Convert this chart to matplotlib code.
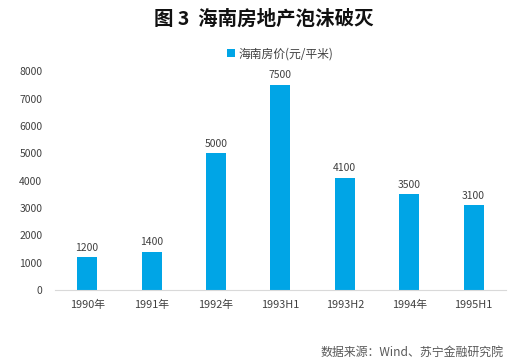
import matplotlib.pyplot as plt
import numpy as np

plt.rcParams['font.family'] = ['Noto Sans CJK SC', 'DejaVu Sans']

# ── Data ───────────────────────────────────────────────────────────────────────
periods = ["1990年", "1991年", "1992年", "1993H1", "1993H2", "1994年", "1995H1"]
prices = [1200, 1400, 5000, 7500, 4100, 3500, 3100]
y_ticks = [0, 1000, 2000, 3000, 4000, 5000, 6000, 7000, 8000]

bar_color = "#00A5E6"
text_color = "#404040"

# ── Figure ─────────────────────────────────────────────────────────────────────
fig = plt.figure(figsize=(5.28, 3.63), dpi=100)
ax = fig.add_axes([0.104, 0.201, 0.854, 0.603])

x = np.arange(len(periods))
bars = ax.bar(x, prices, width=0.31, color=bar_color, label="海南房价(元/平米)")

for xi, v in zip(x, prices):
    ax.text(xi, v + 170, f"{v}", ha="center", va="bottom", fontsize=7.5, color=text_color)

ax.set_xlim(-0.5, len(periods) - 0.5)
ax.set_ylim(0, 8000)
ax.set_xticks(x)
ax.set_xticklabels(periods, fontsize=7.8, color=text_color)
ax.set_yticks(y_ticks)
ax.set_yticklabels([str(t) for t in y_ticks], fontsize=7.5, color=text_color)
ax.tick_params(axis="x", length=0, pad=7)
ax.tick_params(axis="y", length=0, pad=9)

for side in ["top", "right", "left"]:
    ax.spines[side].set_visible(False)
ax.spines["bottom"].set_color("#D9D9D9")

fig.text(0.5, 0.947, "图 3  海南房地产泡沫破灭", ha="center", va="center",
         fontsize=14, fontweight="bold", color="#111111")

ax.legend(loc="center", bbox_to_anchor=(0.5, 1.08), frameon=False, fontsize=8.5,
          handlelength=0.7, handleheight=0.7, handletextpad=0.3, labelcolor=text_color)

fig.text(0.953, 0.03, "数据来源：Wind、苏宁金融研究院", ha="right", va="center",
         fontsize=8.6, style="italic", color="#595959")

fig.savefig("out.png", dpi=100)
